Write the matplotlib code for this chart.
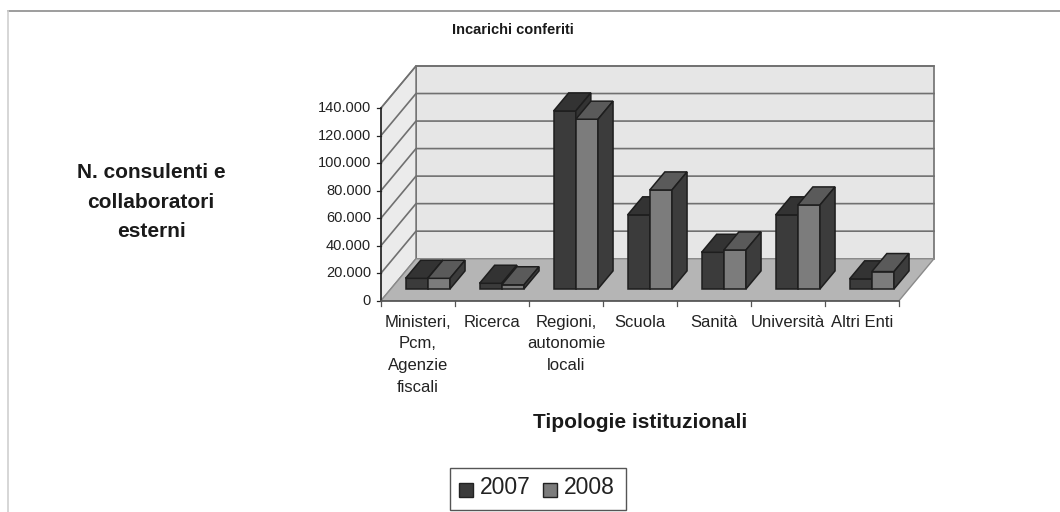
"""Incarichi conferiti: istogramma pseudo-3D (stile Excel) 2007 vs 2008."""
import matplotlib
matplotlib.use("Agg")
import matplotlib.pyplot as plt
from matplotlib.lines import Line2D
from matplotlib.patches import Polygon, Rectangle

categories = ["Ministeri,\nPcm,\nAgenzie\nfiscali", "Ricerca", "Regioni,\nautonomie\nlocali",
              "Scuola", "Sanità", "Università", "Altri Enti"]
v2007 = [7700, 4100, 129300, 53800, 26600, 53800, 7300]
v2008 = [7700, 3000, 123300, 71900, 28300, 61000, 12600]
yticks = [0, 20000, 40000, 60000, 80000, 100000, 120000, 140000]
ylabels = ["0", "20.000", "40.000", "60.000", "80.000", "100.000", "120.000", "140.000"]

W, H = 1060, 512
X0, Y0 = 381, 300.7      # origine del piano frontale (px)
CAT_PX = 74.0
VAL_PX = 192.7 / 140000
DX, DY = 35 / CAT_PX, 42 / VAL_PX   # profondità totale in unità dati

plt.rcParams["font.family"] = ["Liberation Sans", "DejaVu Sans"]
fig = plt.figure(figsize=(W / 100, H / 100), dpi=100, facecolor="#ffffff")
ax = fig.add_axes([0, 0, 1, 1])
ax.set_xlim(-X0 / CAT_PX, (W - X0) / CAT_PX)
ax.set_ylim(-(H - Y0) / VAL_PX, Y0 / VAL_PX)
ax.axis("off")


def proj(x, y, d=0.0):
    return (x + d * DX, y + d * DY)


def poly(pts, fc, ec, lw=1.0, z=1):
    ax.add_patch(Polygon(pts, closed=True, facecolor=fc, edgecolor=ec, linewidth=lw, zorder=z))


# cornice: solo lato alto e sinistro sono visibili nella scansione
fig.add_artist(Line2D([8 / W, 1], [1 - 11 / H, 1 - 11 / H], transform=fig.transFigure,
                      color="#8c8c8c", linewidth=1.2))
fig.add_artist(Line2D([7.5 / W, 7.5 / W], [0, 1 - 11 / H], transform=fig.transFigure,
                      color="#cfcfcf", linewidth=1.2))

# pareti e pavimento
n = len(categories)
top = yticks[-1]
wall_ec = "#707070"
poly([proj(0, 0, 1), proj(n, 0, 1), proj(n, top, 1), proj(0, top, 1)], "#e6e6e6", wall_ec, 1.2)
poly([proj(0, 0), proj(0, 0, 1), proj(0, top, 1), proj(0, top)], "#ebebeb", wall_ec, 1.0)
poly([proj(0, 0), proj(n, 0), proj(n, 0, 1), proj(0, 0, 1)], "#b5b5b5", "#8a8a8a", 1.0)

# griglia e tacche
for t, lab in zip(yticks, ylabels):
    if t > 0:
        ax.plot(*zip(proj(0, t), proj(0, t, 1), proj(n, t, 1)), color=wall_ec, lw=1.2, zorder=2)
    ax.plot(*zip(proj(-0.06, t), proj(0, t)), color="#222222", lw=0.9, zorder=2)
    ax.text(-0.135, t, lab, ha="right", va="center", fontsize=10.5, color="#222222")
ax.plot(*zip(proj(0, 0), proj(0, top)), color="#222222", lw=1.1, zorder=3)
ax.plot(*zip(proj(0, 0), proj(n, 0)), color="#555555", lw=1.2, zorder=3)
for i in range(n + 1):
    ax.plot([i, i], [0, -5 / VAL_PX], color="#555555", lw=0.9, zorder=3)

# barre
D0, D1 = 0.28, 0.71
BW = 0.30
ec = "#1e1e1e"
for i in range(n):
    for j, (v, front, topc, side) in enumerate([(v2007[i], "#3b3b3b", "#333333", "#333333"),
                                                (v2008[i], "#7c7c7c", "#5a5a5a", "#3c3c3c")]):
        x0 = i + 0.5 - BW + j * BW
        x1 = x0 + BW
        poly([proj(x0, 0, D0), proj(x1, 0, D0), proj(x1, v, D0), proj(x0, v, D0)], front, ec, 1.1, 5 + j)
        poly([proj(x0, v, D0), proj(x1, v, D0), proj(x1, v, D1), proj(x0, v, D1)], topc, ec, 1.1, 5 + j)
        poly([proj(x1, 0, D0), proj(x1, 0, D1), proj(x1, v, D1), proj(x1, v, D0)], side, ec, 1.1, 5 + j)

# etichette categorie
for i, lab in enumerate(categories):
    ax.text(i + 0.5, -14 / VAL_PX, lab, ha="center", va="top", fontsize=12, color="#222222",
            linespacing=1.56)


def px_text(x, y, s, **kw):
    fig.text(x / W, 1 - y / H, s, ha="center", va="center", **kw)


px_text(513, 30, "Incarichi conferiti", fontsize=10.5, fontweight="bold", color="#1a1a1a")
px_text(151, 202, "N. consulenti e\ncollaboratori\nesterni", fontsize=15, fontweight="bold",
        color="#1a1a1a", linespacing=1.68)
px_text(640, 423, "Tipologie istituzionali", fontsize=15, fontweight="bold", color="#1a1a1a")

# legenda
fig.add_artist(Rectangle((450 / W, 1 - 510 / H), 176 / W, 42 / H, transform=fig.transFigure,
                         facecolor="#ffffff", edgecolor="#555555", linewidth=1.0))
for sx, tx, col, lab in [(459, 480, "#3b3b3b", "2007"), (543, 564, "#7c7c7c", "2008")]:
    fig.add_artist(Rectangle((sx / W, 1 - 497 / H), 14 / W, 14 / H, transform=fig.transFigure,
                             facecolor=col, edgecolor="#222222", linewidth=1.0))
    fig.text(tx / W, 1 - 488 / H, lab, ha="left", va="center", fontsize=16.5, color="#222222")

fig.savefig("out.png", dpi=100, facecolor=fig.get_facecolor())
